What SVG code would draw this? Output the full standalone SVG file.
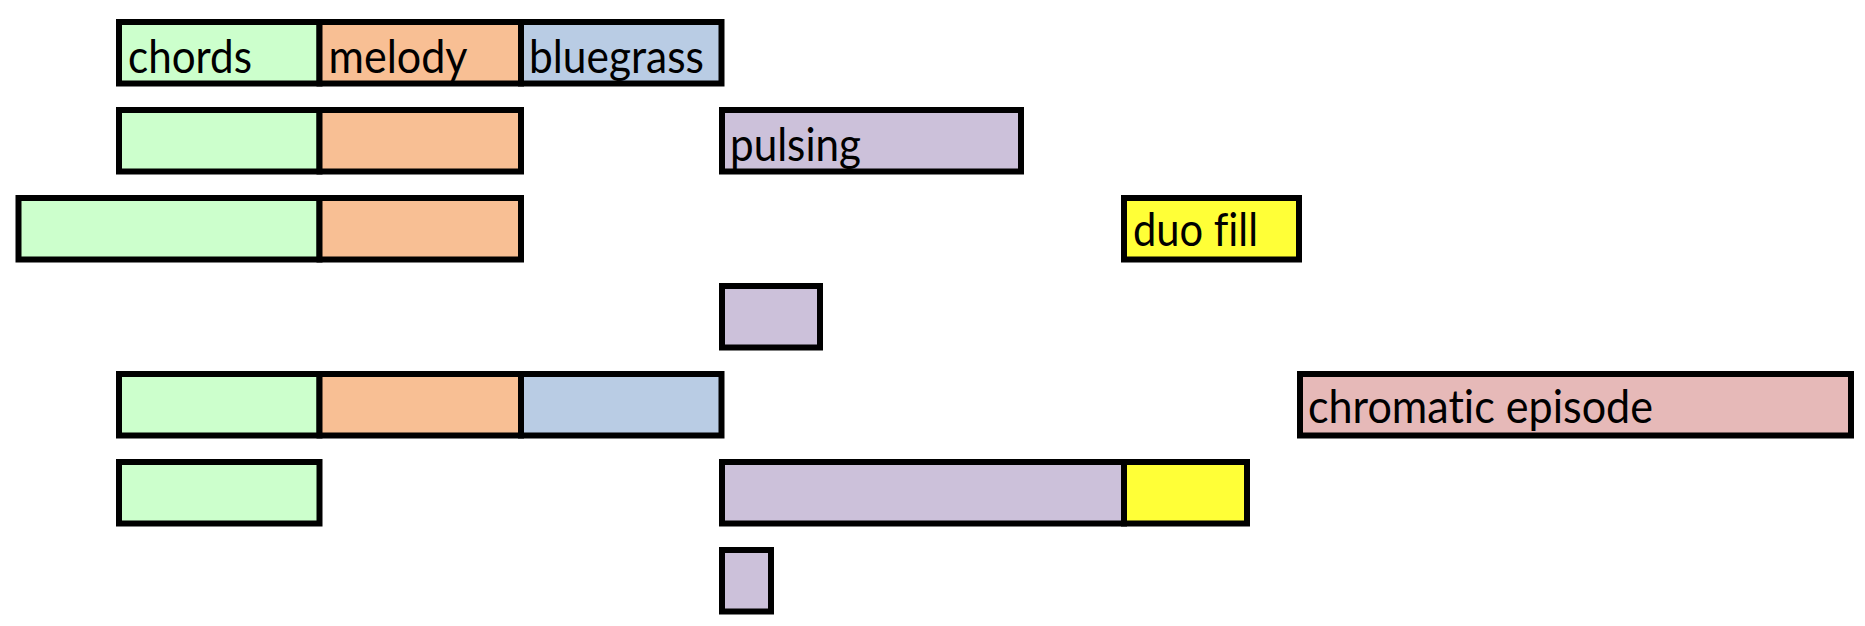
<svg xmlns="http://www.w3.org/2000/svg" width="1865" height="626" viewBox="0 0 1865 626">
<style>
rect{stroke:#000;stroke-width:6}
.g{fill:#CCFFCC}.o{fill:#F8BF94}.b{fill:#B9CCE4}.p{fill:#CCC1DA}.y{fill:#FFFF37}.k{fill:#E6B9B8}
text{font-family:Lato,"Open Sans","Liberation Sans",sans-serif;font-size:46px;fill:#000;font-variant-ligatures:none;font-feature-settings:"liga" 0,"clig" 0}
</style>
<rect x="0" y="0" width="1865" height="626" style="fill:#fff;stroke:none"/>
<g id="connectors"/>
<g id="r1-chords"><rect class="g" x="119" y="22" width="200.5" height="61.5"/><text x="128" y="73" textLength="124" lengthAdjust="spacingAndGlyphs">chords</text></g>
<g id="r1-melody"><rect class="o" x="319.5" y="22" width="201.5" height="61.5"/><text x="328.5" y="73" textLength="139" lengthAdjust="spacingAndGlyphs">melody</text></g>
<g id="r1-bluegrass"><rect class="b" x="521" y="22" width="200.5" height="61.5"/><text x="529" y="73" textLength="175" lengthAdjust="spacingAndGlyphs">bluegrass</text></g>
<g id="r2-chords"><rect class="g" x="119" y="110" width="200.5" height="61.5"/></g>
<g id="r2-melody"><rect class="o" x="319.5" y="110" width="201.5" height="61.5"/></g>
<g id="r2-pulsing"><rect class="p" x="722" y="110" width="299" height="61.5"/><text x="730" y="161" textLength="131" lengthAdjust="spacingAndGlyphs">pulsing</text></g>
<g id="r3-chords"><rect class="g" x="18.5" y="198" width="301" height="61.5"/></g>
<g id="r3-melody"><rect class="o" x="319.5" y="198" width="201.5" height="61.5"/></g>
<g id="r3-duofill"><rect class="y" x="1124" y="198" width="175" height="61.5"/><text x="1133" y="246" textLength="125" lengthAdjust="spacingAndGlyphs">duo fill</text></g>
<g id="r4-pulsing"><rect class="p" x="722" y="286" width="98" height="61.5"/></g>
<g id="r5-chords"><rect class="g" x="119" y="374" width="200.5" height="61.5"/></g>
<g id="r5-melody"><rect class="o" x="319.5" y="374" width="201.5" height="61.5"/></g>
<g id="r5-bluegrass"><rect class="b" x="521" y="374" width="200.5" height="61.5"/></g>
<g id="r5-chromatic"><rect class="k" x="1300" y="374" width="551" height="61.5"/><text x="1308" y="423" textLength="345" lengthAdjust="spacingAndGlyphs">chromatic episode</text></g>
<g id="r6-chords"><rect class="g" x="119" y="462" width="200.5" height="61.5"/></g>
<g id="r6-pulsing"><rect class="p" x="722" y="462" width="402" height="61.5"/></g>
<g id="r6-duofill"><rect class="y" x="1124" y="462" width="123" height="61.5"/></g>
<g id="r7-pulsing"><rect class="p" x="722" y="550" width="49" height="61.5"/></g>
</svg>
